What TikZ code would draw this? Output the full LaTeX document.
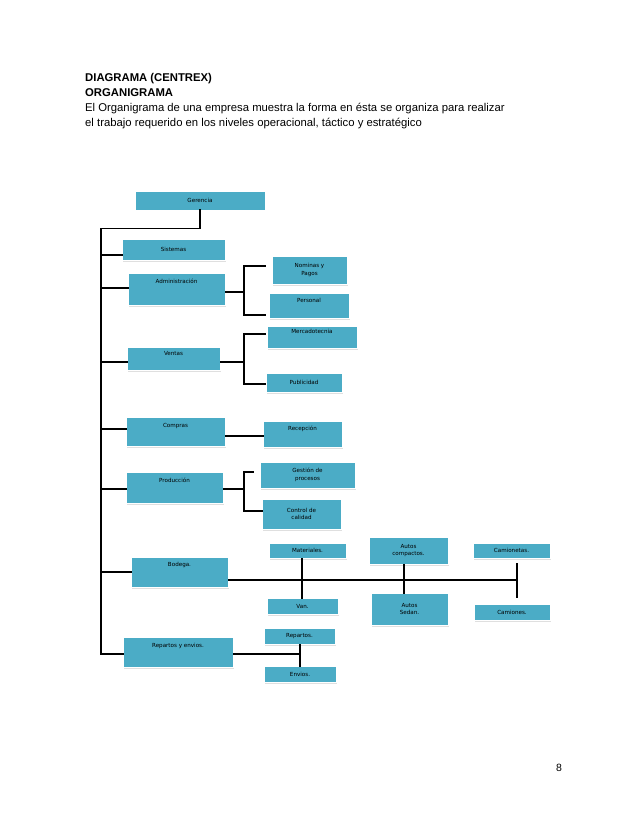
\documentclass[tikz,border=0pt]{standalone}
\usepackage{fontspec}
\usetikzlibrary{shadows}
\setmainfont{Liberation Sans}
\newfontfamily\boxfont{DejaVu Sans}
\begin{document}
\begin{tikzpicture}[x=1pt,y=-1pt,
  bx/.style={fill=boxblue,draw=white,line width=0.6pt,inner sep=1pt,align=center,
    font=\boxfont\fontsize{5.6}{7.5}\selectfont,
    drop shadow={shadow xshift=1pt,shadow yshift=-1.5pt,fill=black!25}},
  ln/.style={line width=1.6pt,line cap=rect}]
\definecolor{boxblue}{HTML}{4BACC6}
\useasboundingbox (0,0) rectangle (638,826);
\newcommand\bx[6]{%
  \pgfmathsetmacro\bw{#4-#2}\pgfmathsetmacro\bh{#5-#3}%
  \pgfmathsetmacro\cx{(#2+#4)/2}\pgfmathsetmacro\cy{(#3+#5)/2}%
  \node[bx,minimum width=\bw pt,minimum height=\bh pt] (#1) at (\cx,\cy) {#6};}
\node[anchor=north west,align=left,inner sep=0pt,font=\fontsize{11.3}{15}\selectfont] (hdr) at (85,73)
 {\textbf{DIAGRAMA (CENTREX)}\\\textbf{ORGANIGRAMA}\\El Organigrama de una empresa muestra la forma en ésta se organiza para realizar\\el trabajo requerido en los niveles operacional, táctico y estratégico};
\node[font=\fontsize{10.5}{12}\selectfont] (pg) at (559,768) {8};
\bx{ger}{135}{191}{265}{210}{Gerencia}
\bx{sis}{122}{239}{225}{260}{Sistemas}
\bx{adm}{128}{273}{225}{305}{Administración\\[7pt]}
\bx{nom}{272}{256}{347}{284}{Nominas y\\Pagos}
\bx{per}{269}{293}{349}{318}{Personal\\[3pt]}
\bx{mer}{267}{326}{357}{348}{Mercadotecnia\\[3pt]}
\bx{ven}{127}{347}{220}{370}{Ventas\\[3pt]}
\bx{pub}{266}{373}{342}{392}{Publicidad}
\bx{com}{126}{417}{225}{446}{Compras\\[5pt]}
\bx{rec}{263}{421}{342}{447}{Recepción\\[3pt]}
\bx{pro}{126}{472}{223}{503}{Producción\\[7pt]}
\bx{ges}{260}{462}{355}{488}{Gestión de\\procesos}
\bx{con}{262}{499}{341}{529}{Control de\\calidad}
\bx{mat}{269}{543}{346}{558}{Materiales.}
\bx{aco}{369}{537}{448}{564}{Autos\\compactos.}
\bx{cta}{473}{543}{550}{558}{Camionetas.}
\bx{bod}{131}{557}{228}{587}{Bodega.\\[8pt]}
\bx{van}{267}{598}{338}{614}{Van.}
\bx{ase}{371}{593}{448}{625}{Autos\\Sedan.}
\bx{cam}{474}{604}{550}{620}{Camiones.}
\bx{rep}{264}{628}{335}{644}{Repartos.}
\bx{rye}{123}{637}{233}{667}{Repartos y envios.\\[6pt]}
\bx{env}{264}{666}{336}{682}{Envios.}
% trunk
\coordinate (t0) at (101,228);
\coordinate (t1) at (101,654);
\draw[ln] (ger.south) -- ++(0,18) -| (t0) -- (t1) -- (rye.west |- t1);
\draw[ln] (t0 |- 255,255) -- (sis.west |- 0,255);
\draw[ln] (t0 |- 0,288) -- (adm.west |- 0,288);
\draw[ln] (t0 |- 0,362) -- (ven.west |- 0,362);
\draw[ln] (t0 |- 0,429) -- (com.west |- 0,429);
\draw[ln] (t0 |- 0,489) -- (pro.west |- 0,489);
\draw[ln] (t0 |- 0,572) -- (bod.west |- 0,572);
% administracion
\draw[ln] (adm.east |- 0,292) -- (244,292);
\draw[ln] (265,266) -- (244,266) -- (244,315) -- (265,315);
% ventas
\draw[ln] (ven.east |- 0,362) -- (244,362);
\draw[ln] (265,334) -- (244,334) -- (244,384) -- (265,384);
% compras
\draw[ln] (com.east |- 0,436) -- (rec.west |- 0,436);
% produccion
\draw[ln] (pro.east |- 0,489) -- (244,489);
\draw[ln] (253,472) -- (244,472) -- (244,511) -- (262,511);
% bodega
\draw[ln] (bod.east |- 0,580) -- (517,580);
\draw[ln] (mat.south -| 302,0) -- (van.north -| 302,0);
\draw[ln] (aco.south -| 404,0) -- (ase.north -| 404,0);
\draw[ln] (517,564) -- (517,597);
% repartos
\draw[ln] (rye.east |- 0,654) -- (300,654);
\draw[ln] (rep.south -| 300,0) -- (env.north -| 300,0);
\end{tikzpicture}
\end{document}
